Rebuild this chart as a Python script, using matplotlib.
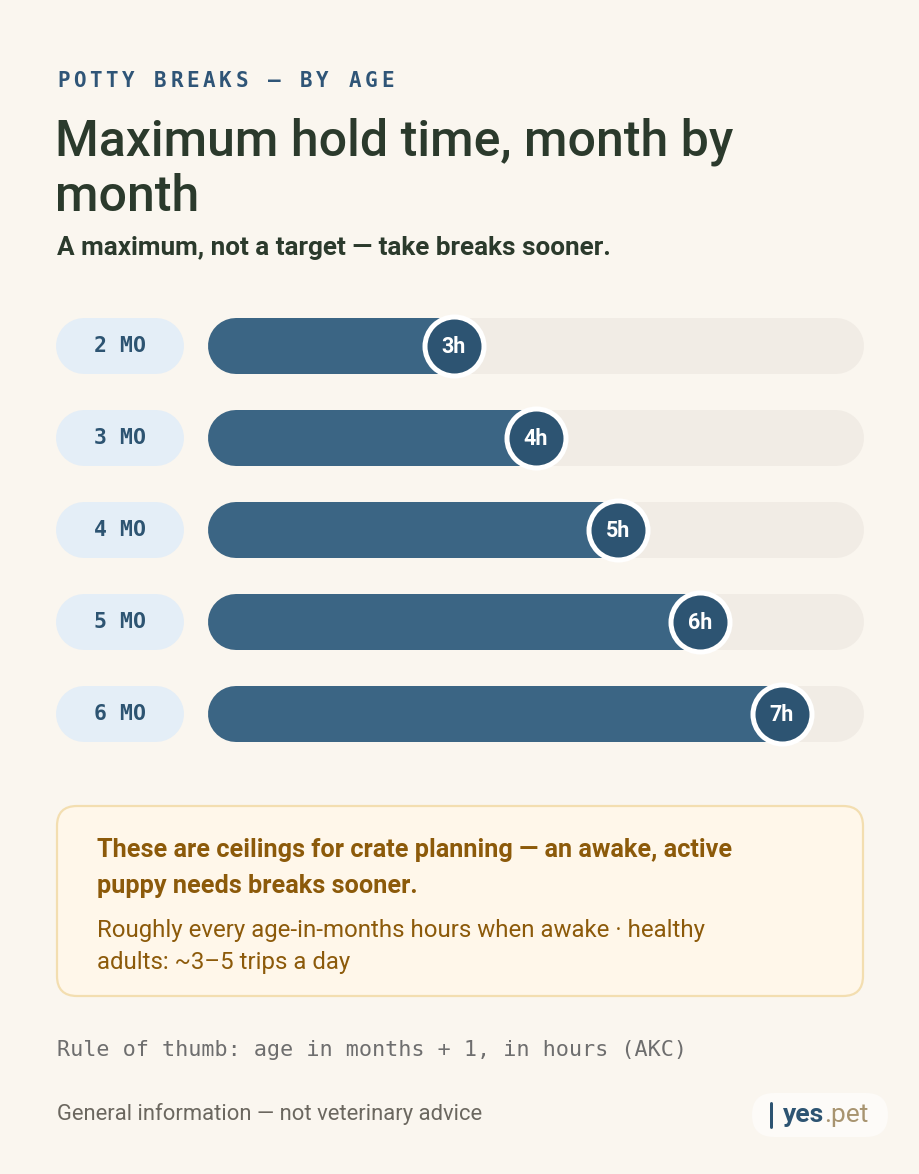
import matplotlib
matplotlib.use("Agg")
from matplotlib import pyplot as plt
from matplotlib.patches import FancyBboxPatch

# -------------------- Data --------------------
ages = ["2 MO", "3 MO", "4 MO", "5 MO", "6 MO"]
hold_hours = [3, 4, 5, 6, 7]
hour_labels = ["3h", "4h", "5h", "6h", "7h"]
scale_max = 8

kicker = "POTTY BREAKS — BY AGE"
title_lines = ["Maximum hold time, month by", "month"]
subtitle = "A maximum, not a target — take breaks sooner."
note_bold = ["These are ceilings for crate planning — an awake, active",
             "puppy needs breaks sooner."]
note_text = ["Roughly every age-in-months hours when awake · healthy",
             "adults: ~3–5 trips a day"]
rule = "Rule of thumb: age in months + 1, in hours (AKC)"
disclaimer = "General information — not veterinary advice"

# -------------------- Style --------------------
BG = "#faf6ef"
BLUE = "#2f5577"
DARK = "#2b3a2c"
PILL = "#e4eef7"
TRACK = "#f1ece5"
FILL = "#3b6584"
DOT = "#2d5472"
GOLD = "#8c5a0a"
SANS = ["Roboto", "DejaVu Sans"]
MONO = ["DejaVu Sans Mono"]

W, H = 920, 1174
PX = 0.72  # points per pixel at dpi 100

fig = plt.figure(figsize=(W / 100, H / 100), dpi=100, facecolor=BG)

# overlay axes in pixel coordinates for the text and frames
ov = fig.add_axes([0, 0, 1, 1])
ov.set_xlim(0, W)
ov.set_ylim(H, 0)
ov.axis("off")
ov.set_zorder(0)

# kicker with letter spacing
for i, ch in enumerate(kicker):
    ov.text(57 + i * 16.2, 81, ch, fontsize=15, family=MONO, fontweight="bold",
            color=BLUE, va="center", ha="left")

for i, line in enumerate(title_lines):
    ov.text(55, 142 + i * 55, line, fontsize=36, family=SANS, fontweight="medium",
            color=DARK, va="center", ha="left")
ov.text(57, 248, subtitle, fontsize=18.8, family=SANS, fontweight="bold",
        color=DARK, va="center", ha="left")

# -------------------- Bars --------------------
left_px, right_px = 208, 864
top_px, bot_px = 300, 760
ax = fig.add_axes([left_px / W, 1 - bot_px / H, (right_px - left_px) / W, (bot_px - top_px) / H])
ax.set_xlim(0, scale_max)
ax.set_ylim(len(ages) - 0.5, -0.5)
ax.axis("off")
ax.set_zorder(1)

bar_h = 56  # px
hpp = scale_max / (right_px - left_px)  # hours per pixel
cap = bar_h / 2 * hpp
lw = bar_h * PX

for i, (age, h, lab) in enumerate(zip(ages, hold_hours, hour_labels)):
    # age pill to the left of the track
    pill_l = (56 - left_px) * hpp
    pill_r = (184 - left_px) * hpp
    ax.plot([pill_l + cap, pill_r - cap], [i, i], lw=lw, color=PILL,
            solid_capstyle="round", clip_on=False, zorder=1)
    ax.text((pill_l + pill_r) / 2, i, age, fontsize=15.5, family=MONO,
            fontweight="bold", color=DOT, ha="center", va="center", clip_on=False)
    # track and fill
    ax.plot([cap, scale_max - cap], [i, i], lw=lw, color=TRACK,
            solid_capstyle="round", zorder=1)
    ax.plot([cap, h], [i, i], lw=lw, color=FILL, solid_capstyle="round", zorder=2)
    ax.scatter([h], [i], s=(59 * PX) ** 2, color=DOT, edgecolors="white",
               linewidths=5 * PX, zorder=3)
    ax.text(h, i + 0.01, lab, fontsize=15.5, family=SANS, fontweight="bold",
            color="white", ha="center", va="center", zorder=4)

# -------------------- Callout --------------------
box = FancyBboxPatch((57, 806), 806, 190, boxstyle="round,pad=0,rounding_size=20",
                     facecolor="#fff7ea", edgecolor="#f3deb0", linewidth=1.6)
ov.add_patch(box)
for i, line in enumerate(note_bold):
    ov.text(97, 850 + i * 36, line, fontsize=18.2, family=SANS, fontweight="bold",
            color=GOLD, va="center", ha="left")
for i, line in enumerate(note_text):
    ov.text(97, 930 + i * 32, line, fontsize=17.3, family=SANS,
            color=GOLD, va="center", ha="left")

# -------------------- Footer --------------------
ov.text(57, 1050, rule, fontsize=15.7, family=MONO, color="#6e6e6e",
        va="center", ha="left")
ov.text(57, 1114, disclaimer, fontsize=15.8, family=SANS, color="#6b675f",
        va="center", ha="left")

logo = FancyBboxPatch((752, 1093), 136, 44, boxstyle="round,pad=0,rounding_size=22",
                      facecolor="#fdfbf8", edgecolor="none")
ov.add_patch(logo)
ov.plot([771, 771], [1103, 1127], lw=3 * PX, color=DOT, solid_capstyle="round")
t = ov.text(783, 1115, "yes", fontsize=19, family=SANS, fontweight="bold",
            color=DOT, va="center", ha="left")
fig.canvas.draw()
bb = t.get_window_extent()
x_end = ov.transData.inverted().transform((bb.x1, bb.y0))[0]
ov.text(x_end, 1115, ".pet", fontsize=19, family=SANS, color="#a89470",
        va="center", ha="left")

fig.savefig("out.png", dpi=100, facecolor=BG)
